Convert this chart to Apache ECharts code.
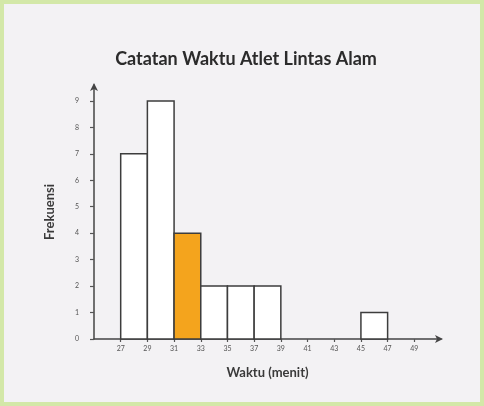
<!DOCTYPE html>
<html>
<head>
<meta charset="utf-8">
<script src="https://cdn.jsdelivr.net/npm/echarts@6/dist/echarts.min.js"></script>
<style>
html,body{margin:0;padding:0;background:#f3f2f4;}
#c{width:484px;height:406px;}
</style>
</head>
<body>
<div id="c"></div>
<script>
var binStarts = [27, 29, 31, 33, 35, 37, 45];
var binEnds = [29, 31, 33, 35, 37, 39, 47];
var frequencies = [7, 9, 4, 2, 2, 2, 1];
var highlighted = [false, false, true, false, false, false, false];
var xTicks = [27, 29, 31, 33, 35, 37, 39, 41, 43, 45, 47, 49];
var yTicks = [0, 1, 2, 3, 4, 5, 6, 7, 8, 9];
var titleText = 'Catatan Waktu Atlet Lintas Alam';
var xName = 'Waktu (menit)';
var yName = 'Frekuensi';

var data = binStarts.map(function (s, i) {
  return [s, binEnds[i], frequencies[i], highlighted[i] ? 1 : 0];
});

var chart = echarts.init(document.getElementById('c'), null, {renderer: 'canvas'});
var font = 'Lato, "Open Sans", sans-serif';
chart.setOption({
  backgroundColor: '#f3f2f4',
  animation: false,
  title: {
    text: titleText,
    left: 241, top: 45, textAlign: 'center',
    textStyle: {fontFamily: font, fontSize: 18, fontWeight: 'bold', color: '#2b2b2b'}
  },
  graphic: [{
    type: 'rect', silent: true, z: 100,
    shape: {x: 2, y: 2, width: 480, height: 402},
    style: {fill: 'none', stroke: '#d3e8a8', lineWidth: 4}
  }],
  grid: {left: 94, right: 43, top: 85, bottom: 67},
  xAxis: {
    type: 'value', min: 25, max: 51,
    name: xName, nameLocation: 'middle', nameGap: 27,
    nameTextStyle: {fontFamily: font, fontSize: 13, fontWeight: 'bold', color: '#3a3a3a'},
    splitLine: {show: false},
    axisLine: {show: true, symbol: ['none', 'arrow'], symbolSize: [6, 8], symbolOffset: [0, 2],
      lineStyle: {color: '#444', width: 1.5}},
    axisTick: {show: true, customValues: xTicks, length: 3, inside: false, lineStyle: {color: '#555', width: 1.2}},
    axisLabel: {customValues: xTicks, margin: 6, fontFamily: font, fontSize: 7, color: '#555'}
  },
  yAxis: {
    type: 'value', min: 0, max: 9.6,
    name: yName, nameLocation: 'middle', nameGap: 38,
    nameTextStyle: {fontFamily: font, fontSize: 13, fontWeight: 'bold', color: '#3a3a3a'},
    splitLine: {show: false},
    axisLine: {show: true, symbol: ['none', 'arrow'], symbolSize: [6, 8], symbolOffset: [0, 2],
      lineStyle: {color: '#444', width: 1.5}},
    axisTick: {show: true, customValues: yTicks, length: 4, lineStyle: {color: '#555', width: 1.2}},
    axisLabel: {customValues: yTicks, margin: 15, fontFamily: font, fontSize: 7, color: '#555'}
  },
  series: [{
    type: 'custom',
    encode: {x: [0, 1], y: 2},
    data: data,
    renderItem: function (params, api) {
      var p0 = api.coord([api.value(0), api.value(2)]);
      var p1 = api.coord([api.value(1), 0]);
      var hl = api.value(3) === 1;
      return {
        type: 'rect',
        shape: {x: p0[0], y: p0[1], width: p1[0] - p0[0], height: p1[1] - p0[1]},
        style: {fill: hl ? '#f4a41d' : '#ffffff', stroke: '#3d3d3d', lineWidth: 1.5}
      };
    }
  }]
});
</script>
</body>
</html>
